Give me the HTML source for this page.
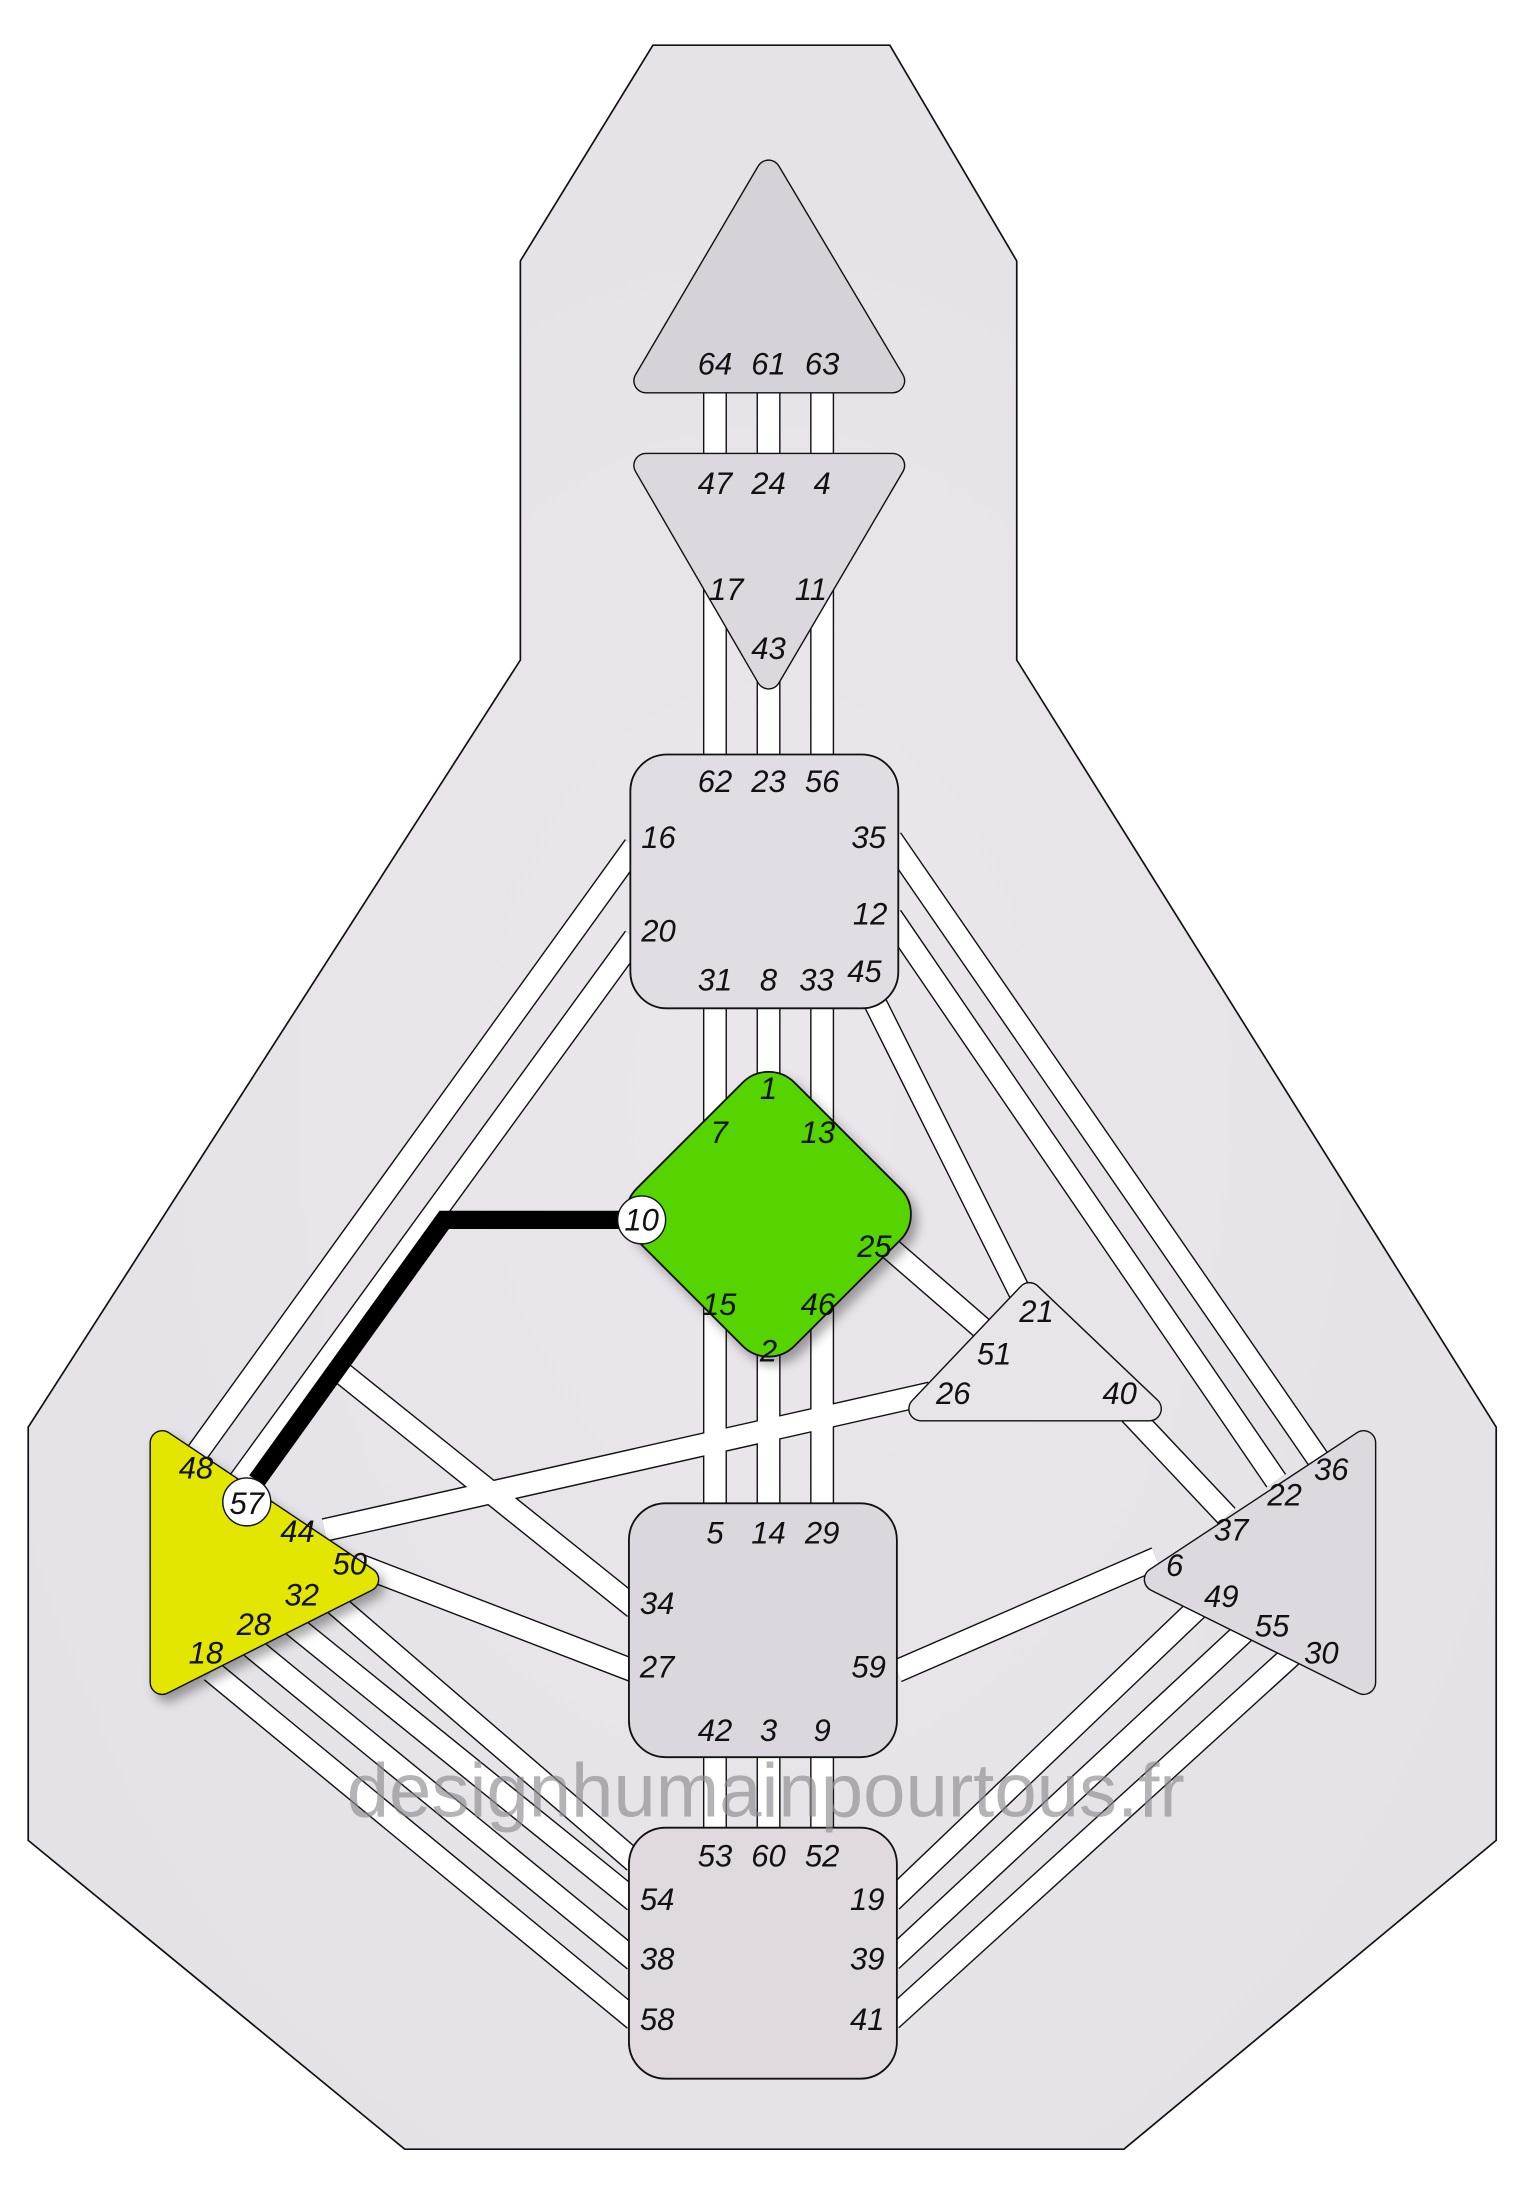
<!DOCTYPE html>
<html><head><meta charset="utf-8"><style>
html,body{margin:0;padding:0;background:#fff;}
svg{display:block;}
text{font-family:"Liberation Sans",sans-serif;font-style:italic;font-size:22px;fill:#111;text-anchor:middle;dominant-baseline:central;}
</style></head><body>
<svg width="1523" height="2200" viewBox="0 0 1080 1560" xmlns="http://www.w3.org/2000/svg">
<defs>
<radialGradient id="bg" cx="0.5" cy="0.5" r="0.7">
<stop offset="0" stop-color="#ebe6ec"/><stop offset="1" stop-color="#e3e1e6"/>
</radialGradient>
<filter id="sh" x="-20%" y="-20%" width="140%" height="140%"><feDropShadow dx="4" dy="5" stdDeviation="4" flood-color="#000" flood-opacity="0.35"/></filter>
</defs>
<polygon points="463,32 631,32 721,185 721,468 1061,1012 1061,1305 797,1524 287,1524 20,1305 20,1012 369,468 369,185" fill="url(#bg)" stroke="#111" stroke-width="1.2"/>

<g stroke-linecap="butt">
<g stroke="#111" stroke-width="17">
<line x1="507" y1="270" x2="507" y2="1300"/><line x1="545" y1="270" x2="545" y2="1300"/><line x1="583" y1="270" x2="583" y2="1300"/>
<line x1="450" y1="600" x2="140" y2="1030"/><line x1="450" y1="665" x2="170" y2="1050"/>
<line x1="632" y1="595" x2="935" y2="1035"/><line x1="632" y1="650" x2="905" y2="1050"/>
<line x1="615" y1="700" x2="725" y2="920"/>
<line x1="625" y1="880" x2="700" y2="945"/>
<line x1="790" y1="990" x2="870" y2="1075"/>
<line x1="660" y1="988" x2="230" y2="1085"/>
<line x1="255" y1="1110" x2="450" y2="1185"/>
<line x1="238" y1="970" x2="450" y2="1140"/>
<line x1="636" y1="1185" x2="820" y2="1105"/>
<line x1="150" y1="1185" x2="450" y2="1432"/><line x1="175" y1="1165" x2="450" y2="1390"/><line x1="205" y1="1150" x2="450" y2="1348"/><line x1="235" y1="1135" x2="450" y2="1320"/>
<line x1="632" y1="1348" x2="860" y2="1130"/><line x1="632" y1="1390" x2="890" y2="1150"/><line x1="632" y1="1432" x2="920" y2="1170"/>
</g>
<g stroke="#fff" stroke-width="15">
<line x1="507" y1="270" x2="507" y2="1300"/><line x1="545" y1="270" x2="545" y2="1300"/><line x1="583" y1="270" x2="583" y2="1300"/>
<line x1="450" y1="600" x2="140" y2="1030"/><line x1="450" y1="665" x2="170" y2="1050"/>
<line x1="632" y1="595" x2="935" y2="1035"/><line x1="632" y1="650" x2="905" y2="1050"/>
<line x1="615" y1="700" x2="725" y2="920"/>
<line x1="625" y1="880" x2="700" y2="945"/>
<line x1="790" y1="990" x2="870" y2="1075"/>
<line x1="660" y1="988" x2="230" y2="1085"/>
<line x1="255" y1="1110" x2="450" y2="1185"/>
<line x1="238" y1="970" x2="450" y2="1140"/>
<line x1="636" y1="1185" x2="820" y2="1105"/>
<line x1="150" y1="1185" x2="450" y2="1432"/><line x1="175" y1="1165" x2="450" y2="1390"/><line x1="205" y1="1150" x2="450" y2="1348"/><line x1="235" y1="1135" x2="450" y2="1320"/>
<line x1="632" y1="1348" x2="860" y2="1130"/><line x1="632" y1="1390" x2="890" y2="1150"/><line x1="632" y1="1432" x2="920" y2="1170"/>
</g>
</g>
<polyline points="440,865 315,865 182,1050" fill="none" stroke="#000" stroke-width="13"/>

<g stroke-linejoin="round">
<polygon points="545,122 633,270 458,270" fill="#111" stroke="#111" stroke-width="18"/>
<polygon points="545,122 633,270 458,270" fill="#d5d2d9" stroke="#d5d2d9" stroke-width="16"/>
<polygon points="458,330 633,330 545,480" fill="#111" stroke="#111" stroke-width="18"/>
<polygon points="458,330 633,330 545,480" fill="#ddd8e0" stroke="#ddd8e0" stroke-width="16"/>
<polygon points="730,918 815,999 653,999" fill="#111" stroke="#111" stroke-width="18"/>
<polygon points="730,918 815,999 653,999" fill="#e9e3ea" stroke="#e9e3ea" stroke-width="16"/>
<g filter="url(#sh)">
<polygon points="115,1023 260,1120 115,1193" fill="#111" stroke="#111" stroke-width="18"/>
<polygon points="115,1023 260,1120 115,1193" fill="#e2e600" stroke="#e2e600" stroke-width="16"/>
</g>
<polygon points="967,1023 820,1120 967,1193" fill="#111" stroke="#111" stroke-width="18"/>
<polygon points="967,1023 820,1120 967,1193" fill="#ded8e0" stroke="#ded8e0" stroke-width="16"/>
</g>
<rect x="447" y="535" width="190" height="180" rx="26" fill="#e2dce4" stroke="#111" stroke-width="1.3"/>
<rect x="446" y="1066" width="190" height="180" rx="26" fill="#dcd7df" stroke="#111" stroke-width="1.3"/>
<rect x="446" y="1296" width="190" height="178" rx="26" fill="#e0d9e0" stroke="#111" stroke-width="1.3"/>
<g filter="url(#sh)">
<rect x="466" y="782" width="158" height="158" rx="26" transform="rotate(45 545 861)" fill="#55d400" stroke="#111" stroke-width="1.3"/>
</g>
<circle cx="455" cy="865" r="17" fill="#fff" stroke="#111" stroke-width="1"/>
<circle cx="175" cy="1065" r="17" fill="#fff" stroke="#111" stroke-width="1"/>

<text x="507" y="258">64</text><text x="545" y="258">61</text><text x="583" y="258">63</text>
<text x="507" y="343">47</text><text x="545" y="343">24</text><text x="583" y="343">4</text>
<text x="515" y="418">17</text><text x="575" y="418">11</text><text x="545" y="460">43</text>
<text x="507" y="554">62</text><text x="545" y="554">23</text><text x="583" y="554">56</text>
<text x="467" y="594">16</text><text x="616" y="594">35</text><text x="467" y="660">20</text><text x="617" y="648">12</text>
<text x="507" y="695">31</text><text x="545" y="695">8</text><text x="579" y="695">33</text><text x="613" y="689">45</text>
<text x="545" y="772">1</text><text x="510" y="803">7</text><text x="580" y="803">13</text><text x="455" y="865">10</text>
<text x="620" y="884">25</text><text x="510" y="925">15</text><text x="580" y="925">46</text><text x="545" y="958">2</text>
<text x="735" y="930">21</text><text x="705" y="960">51</text><text x="676" y="988">26</text><text x="794" y="988">40</text>
<text x="139" y="1041">48</text><text x="175" y="1066">57</text><text x="211" y="1086">44</text><text x="248" y="1109">50</text>
<text x="214" y="1131">32</text><text x="180" y="1152">28</text><text x="146" y="1172">18</text>
<text x="507" y="1087">5</text><text x="545" y="1087">14</text><text x="583" y="1087">29</text>
<text x="466" y="1137">34</text><text x="466" y="1182">27</text><text x="616" y="1182">59</text>
<text x="507" y="1227">42</text><text x="545" y="1227">3</text><text x="583" y="1227">9</text>
<text x="944" y="1042">36</text><text x="911" y="1060">22</text><text x="873" y="1085">37</text><text x="833" y="1110">6</text>
<text x="866" y="1132">49</text><text x="902" y="1153">55</text><text x="937" y="1172">30</text>
<text x="507" y="1316">53</text><text x="545" y="1316">60</text><text x="583" y="1316">52</text>
<text x="466" y="1347">54</text><text x="615" y="1347">19</text><text x="466" y="1389">38</text><text x="615" y="1389">39</text>
<text x="466" y="1432">58</text><text x="615" y="1432">41</text>
<text x="543" y="1270" style="font-style:normal;font-size:54px;fill:#8e8c90;opacity:0.65">designhumainpourtous.fr</text>
</svg>
</body></html>
